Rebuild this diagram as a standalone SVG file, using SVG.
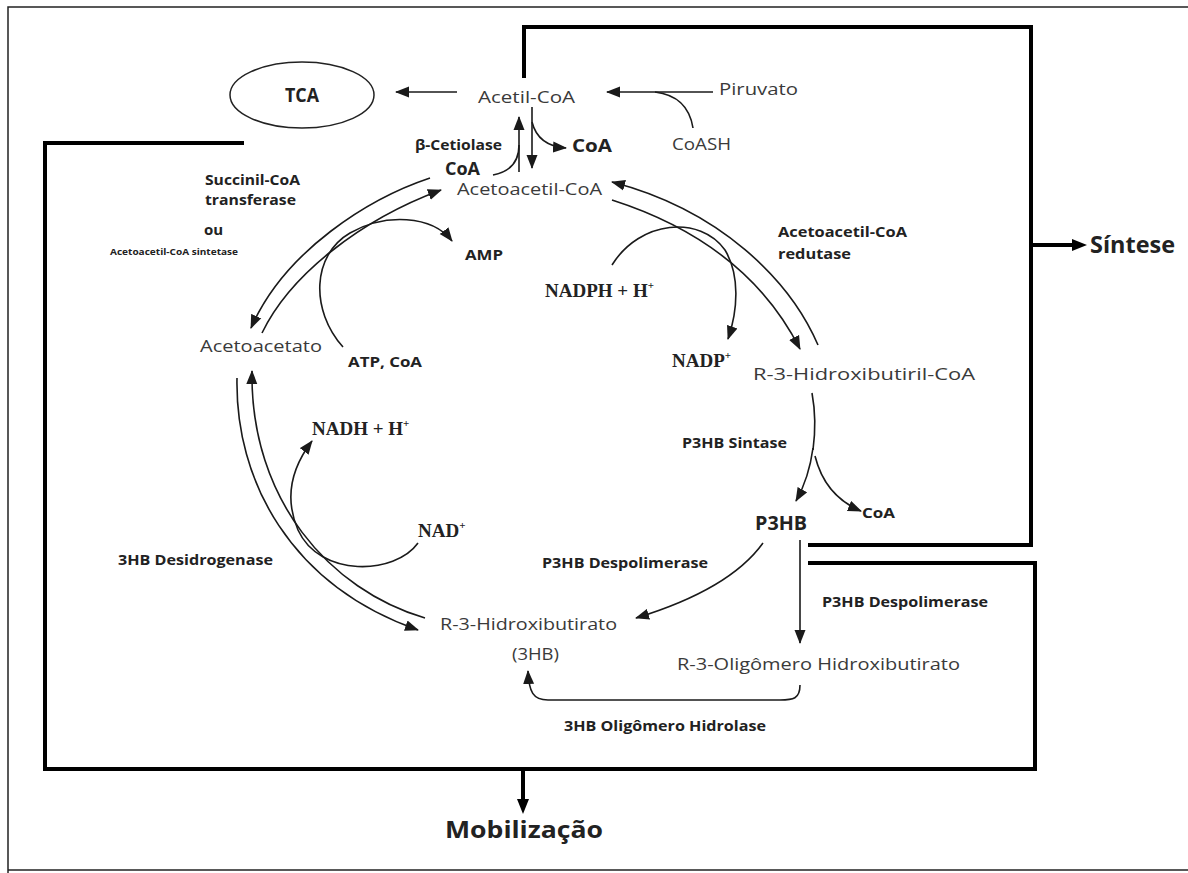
<svg xmlns="http://www.w3.org/2000/svg" width="1188" height="873" viewBox="0 0 1188 873">
<style>
.n{font-family:"Open Sans","Liberation Sans",sans-serif;fill:#3a3a3a}
.b{font-family:"Open Sans","Liberation Sans",sans-serif;font-weight:bold;fill:#222}
.t{font-family:"Liberation Serif","Times New Roman",serif;font-weight:bold;fill:#222}
.c{fill:none;stroke:#1a1a1a;stroke-width:1.6}
.k{fill:none;stroke:#000;stroke-width:4}
.f{fill:none;stroke:#222;stroke-width:1.5}
</style>
<defs>
<marker id="ah" markerUnits="userSpaceOnUse" markerWidth="14" markerHeight="12" refX="13" refY="6" orient="auto"><path d="M0,0.5 L14,6 L0,11.5 z" fill="#1a1a1a"/></marker>
</defs>
<rect width="1188" height="873" fill="#fff"/>
<g id="frame">
<path class="f" d="M8,873 L8,7 L1188,7"/>
<path class="f" d="M8,870 L1188,870"/>
</g>
<g id="connectors">
<path class="k" d="M524,78 L524,27 L1031,27 L1031,545 L808,545"/>
<path class="k" d="M1031,245 L1073,245"/>
<path d="M1072,239 L1087,245 L1072,251 z" fill="#000"/>
<path class="k" d="M808,563 L1035,563 L1035,769 L45,769 L45,143 L244,143"/>
<path class="k" d="M523,769 L523,800"/>
<path d="M517,799 L523,814 L529,799 z" fill="#000"/>
<path class="c" d="M457,92 L396,92" marker-end="url(#ah)"/>
<path class="c" d="M713,92 L607,92" marker-end="url(#ah)"/>
<path class="c" d="M693,128 Q688,96 655,92"/>
<path class="c" d="M519,172 L519,117" marker-end="url(#ah)"/>
<path class="c" d="M493,175 Q519,170 519,145"/>
<path class="c" d="M532,107 L532,168" marker-end="url(#ah)"/>
<path class="c" d="M532,122 Q538,146 566,148" marker-end="url(#ah)"/>
<path class="c" d="M430,178 C370,198 285,250 251,328" marker-end="url(#ah)"/>
<path class="c" d="M262,333 C290,275 360,220 441,190" marker-end="url(#ah)"/>
<path class="c" d="M343,347 C310,310 312,255 350,233 C385,213 432,215 452,241" marker-end="url(#ah)"/>
<path class="c" d="M818,345 C790,280 720,210 612,182" marker-end="url(#ah)"/>
<path class="c" d="M612,200 C690,225 760,270 800,349" marker-end="url(#ah)"/>
<path class="c" d="M612,265 C640,220 700,215 725,250 C740,275 738,310 728,339" marker-end="url(#ah)"/>
<path class="c" d="M812,393 Q817,420 813,450"/>
<path class="c" d="M813,448 Q809,478 796,501" marker-end="url(#ah)"/>
<path class="c" d="M815,456 Q825,496 861,511" marker-end="url(#ah)"/>
<path class="c" d="M800,540 L800,643" marker-end="url(#ah)"/>
<path class="c" d="M763,543 C740,575 695,600 636,618" marker-end="url(#ah)"/>
<path class="c" d="M800,685 C800,699 793,700 780,700 L548,700 C533,700 529,692 528,671" marker-end="url(#ah)"/>
<path class="c" d="M237,378 C235,480 290,585 418,630" marker-end="url(#ah)"/>
<path class="c" d="M425,618 C330,590 250,500 252,371" marker-end="url(#ah)"/>
<path class="c" d="M418,543 C395,575 320,578 298,530 C285,500 290,470 312,441" marker-end="url(#ah)"/>
</g>
<g id="tca"><ellipse cx="302" cy="95" rx="72" ry="33" fill="none" stroke="#222" stroke-width="1.5"/><text class="b" x="302" y="102" text-anchor="middle" font-size="19" textLength="34" lengthAdjust="spacingAndGlyphs">TCA</text></g>
<g id="acetilcoa"><text class="n" x="478" y="103" font-size="17" textLength="97" lengthAdjust="spacingAndGlyphs">Acetil-CoA</text></g>
<g id="piruvato"><text class="n" x="719" y="95" font-size="17" textLength="79" lengthAdjust="spacingAndGlyphs">Piruvato</text></g>
<g id="coash"><text class="n" x="672" y="150" font-size="17" textLength="59" lengthAdjust="spacingAndGlyphs">CoASH</text></g>
<g id="cetiolase"><text class="b" x="415" y="150" font-size="15" textLength="87" lengthAdjust="spacingAndGlyphs">β-Cetiolase</text></g>
<g id="coa-left"><text class="b" x="445" y="175" font-size="17" textLength="35" lengthAdjust="spacingAndGlyphs">CoA</text></g>
<g id="coa-right"><text class="b" x="572" y="152" font-size="17" textLength="40" lengthAdjust="spacingAndGlyphs">CoA</text></g>
<g id="acetoacetilcoa"><text class="n" x="457" y="195" font-size="17" textLength="145" lengthAdjust="spacingAndGlyphs">Acetoacetil-CoA</text></g>
<g id="succinil"><text class="b" x="205" y="185" font-size="15" textLength="95" lengthAdjust="spacingAndGlyphs">Succinil-CoA</text><text class="b" x="205" y="205" font-size="15" textLength="91" lengthAdjust="spacingAndGlyphs">transferase</text><text class="b" x="204" y="235" font-size="15">ou</text><text class="b" x="110" y="255" font-size="9" textLength="128" lengthAdjust="spacingAndGlyphs">Acetoacetil-CoA sintetase</text></g>
<g id="amp"><text class="b" x="465" y="260" font-size="15" textLength="38" lengthAdjust="spacingAndGlyphs">AMP</text></g>
<g id="acetoacetato"><text class="n" x="200" y="352" font-size="17" textLength="122" lengthAdjust="spacingAndGlyphs">Acetoacetato</text></g>
<g id="atpcoa"><text class="b" x="348" y="367" font-size="15" textLength="74" lengthAdjust="spacingAndGlyphs">ATP, CoA</text></g>
<g id="redutase"><text class="b" x="778" y="237" font-size="15" textLength="129" lengthAdjust="spacingAndGlyphs">Acetoacetil-CoA</text><text class="b" x="778" y="259" font-size="15" textLength="73" lengthAdjust="spacingAndGlyphs">redutase</text></g>
<g id="nadph"><text class="t" x="545" y="297" font-size="19">NADPH + H<tspan font-size="11" dy="-8">+</tspan></text></g>
<g id="nadp"><text class="t" x="672" y="367" font-size="19">NADP<tspan font-size="11" dy="-8">+</tspan></text></g>
<g id="r3hbcoa"><text class="n" x="753" y="380" font-size="17" textLength="222" lengthAdjust="spacingAndGlyphs">R-3-Hidroxibutiril-CoA</text></g>
<g id="sintese"><text class="b" x="1090" y="253" font-size="23" textLength="85" lengthAdjust="spacingAndGlyphs">Síntese</text></g>
<g id="p3hbsintase"><text class="b" x="682" y="448" font-size="15" textLength="105" lengthAdjust="spacingAndGlyphs">P3HB Sintase</text></g>
<g id="coa-p3hb"><text class="b" x="862" y="518" font-size="14" textLength="33" lengthAdjust="spacingAndGlyphs">CoA</text></g>
<g id="p3hb"><text class="b" x="755" y="530" font-size="19" textLength="52" lengthAdjust="spacingAndGlyphs">P3HB</text></g>
<g id="despol-left"><text class="b" x="542" y="568" font-size="15" textLength="166" lengthAdjust="spacingAndGlyphs">P3HB Despolimerase</text></g>
<g id="despol-right"><text class="b" x="822" y="607" font-size="15" textLength="166" lengthAdjust="spacingAndGlyphs">P3HB Despolimerase</text></g>
<g id="r3hb"><text class="n" x="440" y="630" font-size="17" textLength="177" lengthAdjust="spacingAndGlyphs">R-3-Hidroxibutirato</text><text class="n" x="512" y="660" font-size="17" textLength="47" lengthAdjust="spacingAndGlyphs">(3HB)</text></g>
<g id="oligomero"><text class="n" x="677" y="670" font-size="17" textLength="283" lengthAdjust="spacingAndGlyphs">R-3-Oligômero Hidroxibutirato</text></g>
<g id="hidrolase"><text class="b" x="564" y="731" font-size="14" textLength="202" lengthAdjust="spacingAndGlyphs">3HB Oligômero Hidrolase</text></g>
<g id="desidrogenase"><text class="b" x="118" y="565" font-size="15" textLength="155" lengthAdjust="spacingAndGlyphs">3HB Desidrogenase</text></g>
<g id="nadh"><text class="t" x="312" y="435" font-size="19">NADH + H<tspan font-size="11" dy="-8">+</tspan></text></g>
<g id="nad"><text class="t" x="418" y="537" font-size="19">NAD<tspan font-size="11" dy="-8">+</tspan></text></g>
<g id="mobilizacao"><text class="b" x="524" y="838" font-size="23" text-anchor="middle" textLength="158" lengthAdjust="spacingAndGlyphs">Mobilização</text></g>
</svg>
